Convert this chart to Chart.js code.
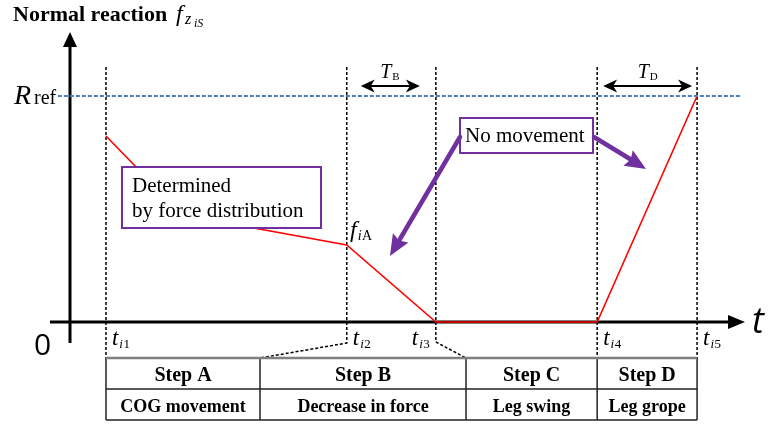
<!DOCTYPE html>
<html>
<head>
<meta charset="utf-8">
<script src="https://cdn.jsdelivr.net/npm/chart.js@4.4.1/dist/chart.umd.min.js"></script>
<style>
  html, body { margin: 0; padding: 0; background: #fff; }
  canvas { display: block; }
</style>
</head>
<body>
<canvas id="chart" width="768" height="425"></canvas>
<script>
'use strict';

// ── Data (time in arbitrary units, force relative to R_ref) ──
const stepTimes   = [5.33, 41.0, 54.2, 78.1, 92.9];
const stepSubs    = ['1', '2', '3', '4', '5'];
const forceX      = [5.33, 16.7, 41.0, 54.2, 78.1, 92.9];
const forceY      = [0.823, 0.473, 0.341, 0, 0, 1];
const refX        = [-1.8, 99.3];
const refY        = [1, 1];
const tableBounds = [5.33, 28.15, 58.67, 78.1, 92.9];
const stepNames   = ['Step A', 'Step B', 'Step C', 'Step D'];
const stepActions = ['COG movement', 'Decrease in force', 'Leg swing', 'Leg grope'];

const SERIF = '"Liberation Serif", "Times New Roman", serif';
const SANS = '"Open Sans", "Liberation Sans", sans-serif';
const PURPLE = '#7030A0';

// base letter + italic "i" + upright index, as in t_i1 / f_iA
function mathLabel(c, base, idx, x, y, size) {
  c.font = 'italic ' + size + 'px ' + SERIF;
  c.fillText(base, x, y);
  let w = c.measureText(base).width + 1;
  const s = Math.round(size * 0.58);
  c.font = 'italic ' + s + 'px ' + SERIF;
  c.fillText('i', x + w, y + 3);
  w += c.measureText('i').width + 0.5;
  c.font = s + 'px ' + SERIF;
  c.fillText(idx, x + w, y + 3);
}

function arrowHead(c, x1, y1, x2, y2, len, half, notch) {
  const a = Math.atan2(y2 - y1, x2 - x1);
  const cos = Math.cos(a), sin = Math.sin(a);
  const bx = x2 - len * cos, by = y2 - len * sin;
  c.beginPath();
  c.moveTo(x2, y2);
  c.lineTo(bx - half * sin, by + half * cos);
  c.lineTo(x2 - (len - notch) * cos, y2 - (len - notch) * sin);
  c.lineTo(bx + half * sin, by - half * cos);
  c.closePath();
  c.fill();
}

function line(c, pts) {
  c.beginPath();
  c.moveTo(pts[0][0], pts[0][1]);
  for (let i = 1; i < pts.length; i++) c.lineTo(pts[i][0], pts[i][1]);
  c.stroke();
}

// ── Background: axes, guide lines, labels, table ──
const backdropPlugin = {
  id: 'backdrop',
  beforeDatasetsDraw(chart) {
    const { ctx: c, scales } = chart;
    const px = v => scales.x.getPixelForValue(v);
    const y0 = scales.y.getPixelForValue(0);
    const yAxisX = scales.x.getPixelForValue(0);
    const tableTop = 358, tableMid = 389, tableBottom = 420;

    c.save();
    c.fillStyle = '#000';
    c.strokeStyle = '#000';

    // vertical dashed step lines (t_i2, t_i3 fold out to the table columns)
    c.lineWidth = 1.5;
    c.setLineDash([3, 2]);
    stepTimes.forEach((t, i) => {
      const x = px(t);
      if (i === 1) {
        line(c, [[x, 67], [x, 343], [px(tableBounds[1]), tableTop]]);
      } else if (i === 2) {
        line(c, [[x, 67], [x, 342], [px(tableBounds[2]), tableTop]]);
      } else {
        line(c, [[x, 67], [x, tableTop]]);
      }
    });
    c.setLineDash([]);

    // axes
    c.lineWidth = 3;
    line(c, [[yAxisX, 343], [yAxisX, 44]]);
    arrowHead(c, yAxisX, 100, yAxisX, 32, 15, 7, 0);
    line(c, [[50, y0], [732, y0]]);
    arrowHead(c, 600, y0, 745, y0, 17, 7, 0);

    // axis labels
    c.textBaseline = 'alphabetic';
    c.font = 'bold 22px ' + SERIF;
    c.fillText('Normal reaction', 13, 21);
    c.font = 'italic 24px ' + SERIF;
    c.fillText('f', 176, 21);
    c.font = 'italic 16px ' + SERIF;
    c.fillText('z', 185, 24);
    c.font = 'italic 12px ' + SERIF;
    c.fillText('iS', 194, 27);

    c.font = 'italic 36px ' + SANS;
    c.fillText('t', 752, 333);
    c.font = '30px ' + SANS;
    c.fillText('0', 34, 355);

    c.font = 'italic 28px ' + SERIF;
    c.fillText('R', 14, 104);
    c.font = '20px ' + SERIF;
    c.fillText('ref', 34, 104);

    // time labels
    stepTimes.forEach((t, i) => {
      const x = i === 2 ? px(t) - 24 : px(t) + 6;
      mathLabel(c, 't', stepSubs[i], x, 345, 23);
    });

    // f_iA label
    mathLabel(c, 'f', 'A', 350, 237, 24);

    // T_B, T_D duration arrows
    c.lineWidth = 2;
    [[1, 2, 'B', 14, 16], [3, 4, 'D', 6, 5]].forEach(([a, b, lbl, ga, gb]) => {
      const xa = px(stepTimes[a]) + ga, xb = px(stepTimes[b]) - gb;
      line(c, [[xa + 6, 86], [xb - 6, 86]]);
      arrowHead(c, xb, 86, xa, 86, 14, 6.5, 4);
      arrowHead(c, xa, 86, xb, 86, 14, 6.5, 4);
      const mid = (xa + xb) / 2;
      c.font = 'italic 20px ' + SERIF;
      c.fillText('T', mid - 10, 78);
      c.font = '11px ' + SERIF;
      c.fillText(lbl, mid + 2, 80);
    });

    // step table
    c.lineWidth = 1.5;
    c.strokeStyle = '#222';
    const L = px(tableBounds[0]), R = px(tableBounds[tableBounds.length - 1]);
    line(c, [[L, tableMid], [R, tableMid]]);
    line(c, [[L, tableBottom], [R, tableBottom]]);
    tableBounds.forEach(b => line(c, [[px(b), tableTop], [px(b), tableBottom]]));
    c.strokeStyle = '#7f7f7f';
    c.lineWidth = 2.5;
    line(c, [[L, tableTop], [R, tableTop]]);

    c.fillStyle = '#000';
    c.textAlign = 'center';
    for (let i = 0; i < stepNames.length; i++) {
      const cx = (px(tableBounds[i]) + px(tableBounds[i + 1])) / 2;
      c.font = 'bold 20px ' + SERIF;
      c.fillText(stepNames[i], cx, 381);
      c.font = 'bold 18px ' + SERIF;
      c.fillText(stepActions[i], cx, 412);
    }
    c.restore();
  },

  // ── Foreground: callout boxes and arrows ──
  afterDatasetsDraw(chart) {
    const c = chart.ctx;
    c.save();
    c.lineWidth = 2;
    c.strokeStyle = PURPLE;
    c.fillStyle = '#fff';
    c.fillRect(122, 167, 199, 61);
    c.strokeRect(122, 167, 199, 61);
    c.fillRect(460, 118, 133, 35);
    c.strokeRect(460, 118, 133, 35);

    c.fillStyle = '#000';
    c.font = '21px ' + SERIF;
    c.textBaseline = 'alphabetic';
    c.fillText('Determined', 132, 192);
    c.fillText('by force distribution', 132, 217);
    c.fillText('No movement', 465, 142);

    c.strokeStyle = PURPLE;
    c.fillStyle = PURPLE;
    c.lineWidth = 4.5;
    c.lineCap = 'round';
    line(c, [[460, 137], [400, 239]]);
    arrowHead(c, 460, 137, 390, 256, 21, 9, 3);
    line(c, [[594, 137], [630, 159]]);
    arrowHead(c, 594, 137, 646, 169, 21, 9, 3);
    c.restore();
  }
};

new Chart(document.getElementById('chart'), {
  type: 'scatter',
  plugins: [backdropPlugin],
  data: {
    datasets: [
      {
        data: refX.map((x, i) => ({ x, y: refY[i] })),
        showLine: true,
        borderColor: '#4F7CC2',
        borderWidth: 2,
        borderDash: [4, 2],
        pointRadius: 0,
        clip: false,
      },
      {
        data: forceX.map((x, i) => ({ x, y: forceY[i] })),
        showLine: true,
        borderColor: '#FF0000',
        borderWidth: 1.6,
        pointRadius: 0,
        clip: false,
      }
    ]
  },
  options: {
    responsive: false,
    animation: false,
    layout: { padding: { left: 70, right: 23, top: 35, bottom: 83 } },
    scales: {
      x: { type: 'linear', display: false, min: 0, max: 100 },
      y: { type: 'linear', display: false, min: -0.0885, max: 1.27 }
    },
    plugins: {
      legend: { display: false },
      tooltip: { enabled: false }
    }
  }
});
</script>
</body>
</html>
